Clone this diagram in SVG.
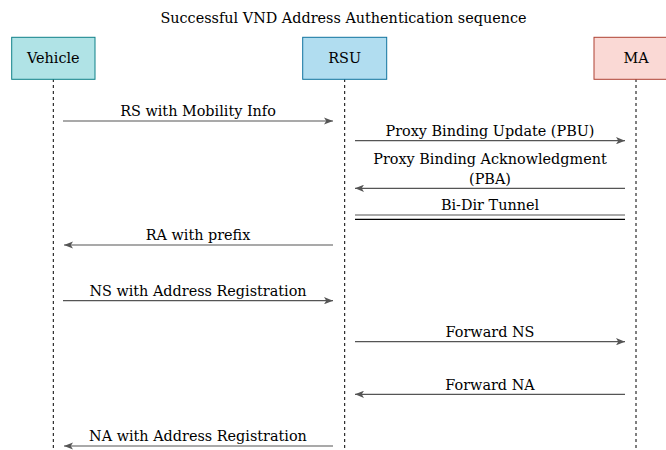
<svg xmlns="http://www.w3.org/2000/svg" width="666" height="450" viewBox="0 0 666 450">
<style>
text{font-family:"DejaVu Serif","Liberation Serif",serif;font-size:14.4px;fill:#000;text-anchor:middle}
.life{stroke:#000;stroke-width:1;stroke-dasharray:3 3;fill:none}
.msg{stroke:#555;stroke-width:1.2;fill:none}
</style>
<defs>
<marker id="ah" markerUnits="userSpaceOnUse" viewBox="0 0 10 8" refX="10" refY="4" markerWidth="9" markerHeight="7.5" orient="auto">
<path d="M0,0 L10,4 L0,8 L2.5,4 z" fill="#555"/>
</marker>
</defs>
<rect width="666" height="450" fill="#fff"/>
<text id="title" x="343.5" y="22.5">Successful VND Address Authentication sequence</text>
<g id="lifelines">
<line class="life" x1="53.3" y1="79" x2="53.3" y2="450"/>
<line class="life" x1="344.7" y1="79" x2="344.7" y2="450"/>
<line class="life" x1="636" y1="79" x2="636" y2="450"/>
</g>
<g id="vehicle">
<rect x="11.7" y="37.3" width="83.3" height="42" fill="#b0e3e6" stroke="#0e8088" stroke-width="1"/>
<text x="53.3" y="63.3">Vehicle</text>
</g>
<g id="rsu">
<rect x="302.7" y="37.3" width="84" height="42" fill="#b1ddf0" stroke="#10739e" stroke-width="1"/>
<text x="344.7" y="63.3">RSU</text>
</g>
<g id="ma">
<rect x="594" y="37.3" width="84" height="42" fill="#fad9d5" stroke="#ae4132" stroke-width="1"/>
<text x="636" y="63.3">MA</text>
</g>
<g id="connectors">
<line class="msg" x1="63" y1="121" x2="333" y2="121" marker-end="url(#ah)"/>
<text x="198" y="116">RS with Mobility Info</text>
<line class="msg" x1="355" y1="140.7" x2="625" y2="140.7" marker-end="url(#ah)"/>
<text x="490" y="136">Proxy Binding Update (PBU)</text>
<line class="msg" x1="625" y1="188.3" x2="355" y2="188.3" marker-end="url(#ah)"/>
<text x="490" y="164">Proxy Binding Acknowledgment</text>
<text x="490" y="183.5">(PBA)</text>
<line x1="355" y1="215" x2="625" y2="215" stroke="#555" stroke-width="1.2"/>
<line x1="355" y1="219.3" x2="625" y2="219.3" stroke="#000" stroke-width="1.2"/>
<text x="490" y="209.5">Bi-Dir Tunnel</text>
<line class="msg" x1="333" y1="245" x2="64" y2="245" marker-end="url(#ah)"/>
<text x="198" y="240">RA with prefix</text>
<line class="msg" x1="63" y1="300.7" x2="333" y2="300.7" marker-end="url(#ah)"/>
<text x="198" y="295.5">NS with Address Registration</text>
<line class="msg" x1="355" y1="341.7" x2="625" y2="341.7" marker-end="url(#ah)"/>
<text x="490" y="337">Forward NS</text>
<line class="msg" x1="625" y1="394.3" x2="355" y2="394.3" marker-end="url(#ah)"/>
<text x="490" y="389.5">Forward NA</text>
<line class="msg" x1="333" y1="446" x2="64" y2="446" marker-end="url(#ah)"/>
<text x="198" y="441">NA with Address Registration</text>
</g>
</svg>
